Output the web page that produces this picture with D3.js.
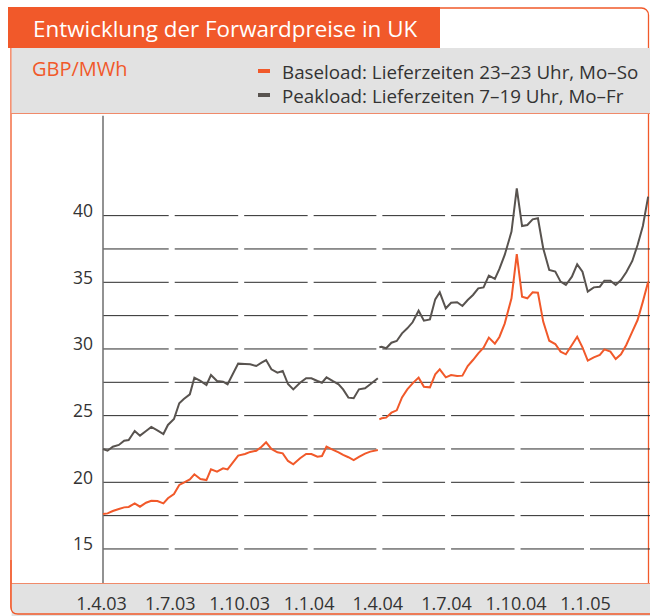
<!DOCTYPE html>
<html>
<head>
<meta charset="utf-8">
<script src="https://cdn.jsdelivr.net/npm/d3@7"></script>
<style>
	body { margin: 0; background: #fff; }
	svg { display: block; font-family: "Open Sans", sans-serif; }
</style>
</head>
<body>
<svg id="chart" width="650" height="616"></svg>
<script>
// contract 1.4.03 - 31.3.04
const dates1 = ["2003-04-01","2003-04-07","2003-04-14","2003-04-22","2003-04-29","2003-05-05","2003-05-13","2003-05-20","2003-05-28","2003-06-04","2003-06-12","2003-06-20","2003-06-26","2003-07-04","2003-07-11","2003-07-17","2003-07-25","2003-07-31","2003-08-08","2003-08-16","2003-08-22","2003-08-30","2003-09-07","2003-09-13","2003-09-27","2003-10-06","2003-10-13","2003-10-21","2003-10-28","2003-11-03","2003-11-10","2003-11-18","2003-11-25","2003-12-02","2003-12-09","2003-12-18","2003-12-26","2004-01-02","2004-01-10","2004-01-16","2004-01-22","2004-01-30","2004-02-07","2004-02-13","2004-02-20","2004-02-27","2004-03-05","2004-03-13","2004-03-20","2004-03-30"];
const base1 = [17.62,17.67,17.85,18.0,18.12,18.15,18.42,18.17,18.47,18.62,18.6,18.42,18.8,19.12,19.8,19.97,20.22,20.6,20.25,20.17,20.97,20.8,21.05,20.97,22.0,22.12,22.28,22.37,22.67,23.0,22.5,22.25,22.17,21.6,21.35,21.8,22.12,22.12,21.92,21.97,22.67,22.45,22.25,22.05,21.88,21.67,21.9,22.15,22.3,22.42];
const peak1 = [22.5,22.37,22.67,22.8,23.12,23.17,23.85,23.5,23.85,24.15,23.9,23.62,24.3,24.75,25.93,26.25,26.6,27.85,27.6,27.3,28.05,27.6,27.55,27.35,28.9,28.87,28.85,28.72,28.97,29.17,28.47,28.22,28.35,27.37,26.97,27.47,27.8,27.8,27.6,27.47,27.87,27.6,27.35,26.97,26.35,26.3,26.97,27.05,27.35,27.8];

// contract from 1.4.04
const dates2 = ["2004-04-01","2004-04-04","2004-04-10","2004-04-17","2004-04-24","2004-05-01","2004-05-08","2004-05-15","2004-05-23","2004-05-30","2004-06-07","2004-06-14","2004-06-20","2004-06-28","2004-07-05","2004-07-13","2004-07-20","2004-07-27","2004-08-03","2004-08-10","2004-08-17","2004-08-24","2004-09-01","2004-09-07","2004-09-14","2004-09-23","2004-09-30","2004-10-07","2004-10-14","2004-10-21","2004-10-28","2004-11-04","2004-11-12","2004-11-20","2004-11-27","2004-12-04","2004-12-12","2004-12-19","2004-12-26","2005-01-02","2005-01-10","2005-01-18","2005-01-24","2005-02-01","2005-02-08","2005-02-15","2005-02-22","2005-03-02","2005-03-09","2005-03-16","2005-03-23"];
const base2 = [24.72,24.8,24.85,25.22,25.4,26.37,26.97,27.42,27.85,27.17,27.12,28.1,28.47,27.87,28.05,27.97,28.0,28.72,29.17,29.67,30.1,30.85,30.4,30.9,31.9,33.8,37.12,33.92,33.8,34.25,34.22,32.05,30.62,30.37,29.8,29.6,30.3,30.92,30.12,29.12,29.37,29.55,29.97,29.8,29.25,29.6,30.3,31.3,32.17,33.55,35.05];
const peak2 = [30.13,30.17,30.05,30.47,30.6,31.17,31.55,32.0,32.87,32.12,32.22,33.72,34.25,33.05,33.47,33.5,33.22,33.67,34.05,34.55,34.62,35.5,35.25,36.0,37.05,38.8,42.05,39.22,39.3,39.72,39.8,37.55,35.92,35.8,35.05,34.8,35.42,36.35,35.8,34.3,34.62,34.67,35.12,35.12,34.8,35.17,35.75,36.6,37.8,39.22,41.42];

const yTicks = [15, 20, 25, 30, 35, 40];
const gridValues = [15, 17.5, 20, 22.5, 25, 27.5, 30, 32.5, 35, 37.5, 40];

const title = 'Entwicklung der Forwardpreise in UK';
const unit = 'GBP/MWh';
const legendLabels = ['Baseload: Lieferzeiten 23–23 Uhr, Mo–So', 'Peakload: Lieferzeiten 7–19 Uhr, Mo–Fr'];

const orange = '#f1592a';
const grey = '#58534f';
const band = '#e2e2e2';

const parse = d3.timeParse('%Y-%m-%d');

const svg = d3.select('#chart');

const x = d3.scaleTime()
	.domain([parse('2003-04-01'), parse('2005-01-01')])
	.range([103, 587]);

const y = d3.scaleLinear()
	.domain([12.5, 47.5])
	.range([582.3, 115.63]);

// frame
svg.append('rect')
	.attr('x', 11).attr('y', 8)
	.attr('width', 637.5).attr('height', 606)
	.attr('rx', 7)
	.attr('fill', '#fff')
	.attr('stroke', orange)
	.attr('stroke-width', 1.3);

// header band
svg.append('rect')
	.attr('x', 11.6).attr('y', 48)
	.attr('width', 640).attr('height', 65)
	.attr('fill', band);
svg.append('line')
	.attr('x1', 11).attr('x2', 650)
	.attr('y1', 113.5).attr('y2', 113.5)
	.attr('stroke', '#f08a6a').attr('stroke-width', 1);

// bottom band
svg.append('path')
	.attr('d', 'M11.6,583.5 H650 V616 H11.6 Z')
	.attr('fill', band);
svg.append('line')
	.attr('x1', 11).attr('x2', 650)
	.attr('y1', 583.5).attr('y2', 583.5)
	.attr('stroke', '#f08a6a').attr('stroke-width', 1);
svg.append('path')
	.attr('d', 'M11,560 V607 Q11,614 18,614 H650')
	.attr('fill', 'none')
	.attr('stroke', orange)
	.attr('stroke-width', 1.3);

// title
svg.append('rect')
	.attr('x', 8).attr('y', 7)
	.attr('width', 432).attr('height', 41)
	.attr('fill', orange);
svg.append('text')
	.attr('x', 33).attr('y', 36.5)
	.attr('fill', '#fff')
	.attr('font-size', 22.4)
	.text(title);

svg.append('text')
	.attr('x', 32).attr('y', 76)
	.attr('fill', orange)
	.attr('font-size', 20)
	.text(unit);

// legend
const legend = svg.append('g');
legendLabels.forEach((label, i) => {
	legend.append('rect')
		.attr('x', 258).attr('y', 69 + i * 24)
		.attr('width', 12).attr('height', 4)
		.attr('fill', i === 0 ? orange : grey);
	legend.append('text')
		.attr('x', 282).attr('y', 78.5 + i * 24)
		.attr('fill', '#333')
		.attr('font-size', 18.8)
		.text(label);
});

// grid, broken at each quarter
const quarters = d3.timeMonth.every(3).range(parse('2003-04-01'), parse('2005-04-02'));
const segs = d3.pairs(quarters);
const grid = svg.append('g');
gridValues.forEach(v => {
	segs.forEach(([a, b], i) => {
		grid.append('line')
			.attr('x1', i === 0 ? x(a) : x(a) + 3)
			.attr('x2', x(b) - 3)
			.attr('y1', y(v)).attr('y2', y(v))
			.attr('stroke', '#2a2a2a')
			.attr('stroke-width', 1);
	});
});

// y axis line
svg.append('line')
	.attr('x1', x(parse('2003-04-01'))).attr('x2', x(parse('2003-04-01')))
	.attr('y1', y(47.5)).attr('y2', 583)
	.attr('stroke', '#6e6e6e')
	.attr('stroke-width', 1.5);

svg.append('g')
	.selectAll('text')
	.data(yTicks)
	.join('text')
	.attr('x', 93)
	.attr('y', d => y(d) + 1.5)
	.attr('text-anchor', 'end')
	.attr('fill', '#333')
	.attr('font-size', 17.5)
	.text(d => d);

// x labels
const fmt = d3.timeFormat('%-d.%-m.%y');
svg.append('g')
	.selectAll('text')
	.data(x.ticks(d3.timeMonth.every(3)))
	.join('text')
	.attr('x', d => x(d) - 1.5)
	.attr('y', 610)
	.attr('text-anchor', 'middle')
	.attr('fill', '#333')
	.attr('font-size', 18)
	.text(d => fmt(d));

// lines
const line = d3.line()
	.x(d => x(d[0]))
	.y(d => y(d[1]));

const series = [
	{dates: dates1, values: peak1, color: grey},
	{dates: dates2, values: peak2, color: grey},
	{dates: dates1, values: base1, color: orange},
	{dates: dates2, values: base2, color: orange}
];

series.forEach(s => {
	svg.append('path')
		.datum(s.dates.map((d, i) => [parse(d), s.values[i]]))
		.attr('d', line)
		.attr('fill', 'none')
		.attr('stroke', s.color)
		.attr('stroke-width', 2)
		.attr('stroke-linejoin', 'miter');
});
</script>
</body>
</html>
